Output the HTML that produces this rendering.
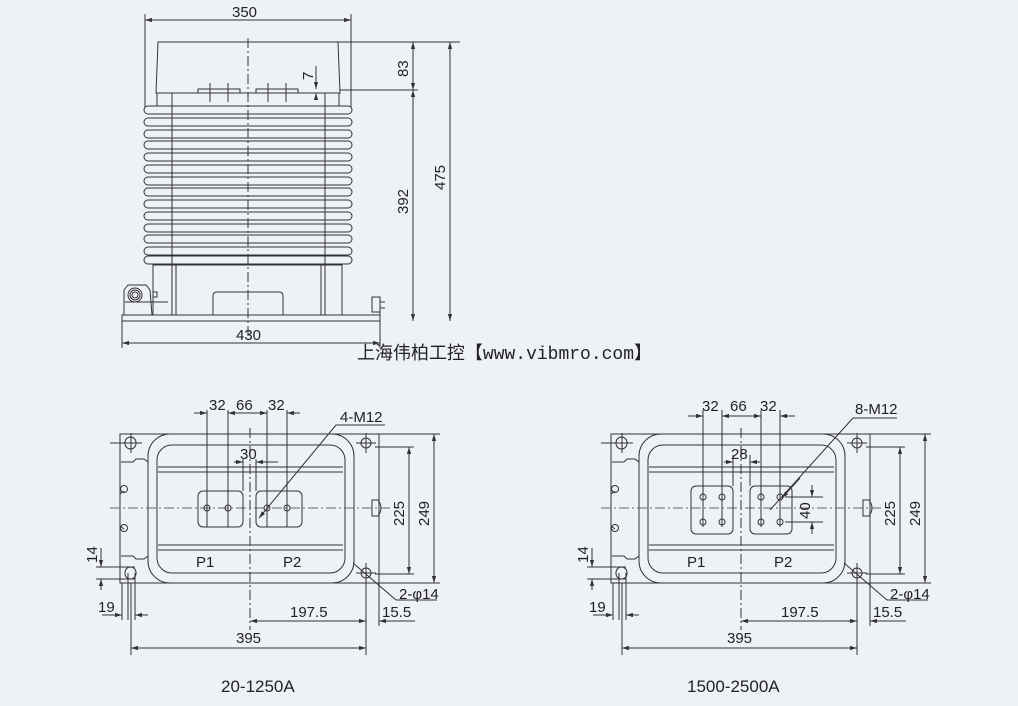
<!DOCTYPE html>
<html><head><meta charset="utf-8"><style>
html,body{margin:0;padding:0;background:#eef1f6;}
svg{display:block}
text{font-family:"Liberation Sans","Noto Sans CJK SC",sans-serif;fill:#222;font-size:15px}
</style></head><body>
<svg width="1018" height="706" viewBox="0 0 1018 706" xmlns="http://www.w3.org/2000/svg">
<defs>
<marker id="a" viewBox="0 0 10 10" refX="10" refY="5" markerWidth="7" markerHeight="7" orient="auto-start-reverse"><path d="M0,2 L10,5 L0,8 z" fill="#333"/></marker>
<g id="common" fill="none" stroke="#333" stroke-width="1">
  <rect x="120" y="434" width="259" height="149"/>
  <rect x="148" y="434" width="206" height="149" rx="22" fill="#eef1f6"/>
  <rect x="157" y="445" width="188" height="128" rx="15"/>
  <line x1="158" y1="467" x2="343" y2="467"/><line x1="158" y1="472" x2="343" y2="472"/>
  <line x1="158" y1="545" x2="343" y2="545"/><line x1="158" y1="550" x2="343" y2="550"/>
  <path d="M121,462 L133,462 L136,459 L144,459 L148,462"/>
  <path d="M121,556 L133,556 L136,559 L144,559 L148,556"/>
  <path d="M124,491 L120,494 L120,526 L124,529"/>
  <circle cx="124" cy="489" r="3.5"/><circle cx="124" cy="528" r="3.5"/>
  <rect x="125" y="437" width="11" height="12" rx="5.5"/>
  <rect x="125" y="567" width="11" height="12" rx="5.5"/>
  <circle cx="366" cy="443" r="5"/><circle cx="366" cy="573" r="5"/>
  <path d="M372,500 L378,500 Q384,508 378,516 L372,516 z"/>
  <line x1="250" y1="428" x2="250" y2="630" stroke-dasharray="10,3,2,3"/>
  <line x1="110" y1="508" x2="390" y2="508" stroke-dasharray="10,3,2,3" stroke="#666"/>
  <line x1="110" y1="443" x2="142" y2="443"/><line x1="131" y1="433" x2="131" y2="453"/>
  <line x1="356" y1="443" x2="376" y2="443"/><line x1="366" y1="433" x2="366" y2="453"/>
  <line x1="356" y1="573" x2="376" y2="573"/><line x1="366" y1="563" x2="366" y2="583"/>
  <line x1="375" y1="447" x2="414" y2="447"/><line x1="375" y1="574" x2="414" y2="574"/>
  <line x1="409" y1="447" x2="409" y2="574" marker-start="url(#a)" marker-end="url(#a)"/>
  <line x1="379" y1="434" x2="440" y2="434"/><line x1="379" y1="583" x2="440" y2="583"/>
  <line x1="434" y1="434" x2="434" y2="583" marker-start="url(#a)" marker-end="url(#a)"/>
  <line x1="353" y1="563" x2="396" y2="600"/><line x1="396" y1="600" x2="437" y2="600"/>
  <line x1="96" y1="567" x2="135" y2="567"/><line x1="96" y1="579" x2="135" y2="579"/>
  <line x1="101" y1="548" x2="101" y2="567" marker-end="url(#a)"/>
  <line x1="101" y1="590" x2="101" y2="579" marker-end="url(#a)"/>
  <line x1="122" y1="583" x2="122" y2="620"/><line x1="128" y1="573" x2="128" y2="620"/><line x1="135" y1="573" x2="135" y2="620"/>
  <line x1="102" y1="615" x2="122" y2="615" marker-end="url(#a)"/>
  <line x1="148" y1="615" x2="135" y2="615" marker-end="url(#a)"/>
  <line x1="366" y1="578" x2="366" y2="655"/><line x1="379" y1="583" x2="379" y2="626"/><line x1="131" y1="583" x2="131" y2="655"/>
  <line x1="250" y1="621" x2="366" y2="621" marker-start="url(#a)" marker-end="url(#a)"/>
  <line x1="415" y1="621" x2="379" y2="621" marker-end="url(#a)"/>
  <line x1="131" y1="648" x2="366" y2="648" marker-start="url(#a)" marker-end="url(#a)"/>
</g>
</defs>

<g fill="none" stroke="#333" stroke-width="1">
  <line x1="145" y1="14" x2="145" y2="110"/><line x1="351" y1="14" x2="351" y2="110"/>
  <line x1="145" y1="20" x2="351" y2="20" marker-start="url(#a)" marker-end="url(#a)"/>
  <path d="M158,42 L338,42 L340,93 L156,93 z"/>
  <line x1="338" y1="42" x2="460" y2="42"/><line x1="340" y1="90" x2="418" y2="90"/>
  <line x1="413" y1="42" x2="413" y2="90" marker-start="url(#a)" marker-end="url(#a)"/>
  <line x1="413" y1="90" x2="413" y2="321" marker-start="url(#a)" marker-end="url(#a)"/>
  <line x1="450" y1="42" x2="450" y2="321" marker-start="url(#a)" marker-end="url(#a)"/>
  <line x1="316" y1="66" x2="316" y2="89" marker-end="url(#a)"/>
  <line x1="316" y1="100" x2="316" y2="93" marker-end="url(#a)"/>
  <rect x="198" y="89" width="42" height="4"/><rect x="256" y="89" width="42" height="4"/>
  <line x1="210" y1="83" x2="210" y2="102"/><line x1="228" y1="83" x2="228" y2="102"/>
  <line x1="268" y1="83" x2="268" y2="102"/><line x1="286" y1="83" x2="286" y2="102"/>
  <line x1="157" y1="93" x2="157" y2="106"/><line x1="339" y1="93" x2="339" y2="106"/>
  <line x1="156" y1="93" x2="340" y2="93"/>
</g>
<g fill="#eef1f6" stroke="#333" stroke-width="1">
  <rect x="144" y="106" width="208" height="8" rx="4"/>
  <rect x="144" y="118" width="208" height="8" rx="4"/>
  <rect x="144" y="130" width="208" height="8" rx="4"/>
  <rect x="144" y="141" width="208" height="8" rx="4"/>
  <rect x="144" y="153" width="208" height="8" rx="4"/>
  <rect x="144" y="165" width="208" height="8" rx="4"/>
  <rect x="144" y="177" width="208" height="8" rx="4"/>
  <rect x="144" y="188" width="208" height="8" rx="4"/>
  <rect x="144" y="200" width="208" height="8" rx="4"/>
  <rect x="144" y="212" width="208" height="8" rx="4"/>
  <rect x="144" y="224" width="208" height="8" rx="4"/>
  <rect x="144" y="235" width="208" height="8" rx="4"/>
  <rect x="144" y="247" width="208" height="8" rx="4"/>
  <rect x="144" y="256" width="208" height="8" rx="4"/>
</g>
<g fill="none" stroke="#333" stroke-width="1">
  <line x1="172" y1="93" x2="172" y2="315"/><line x1="325" y1="93" x2="325" y2="315"/>
  <line x1="153" y1="265" x2="342" y2="265"/>
  <line x1="153" y1="264" x2="153" y2="315"/><line x1="342" y1="264" x2="342" y2="315"/>
  <line x1="176" y1="265" x2="176" y2="315"/><line x1="321" y1="265" x2="321" y2="315"/>
  <path d="M213,315 L213,296 Q213,292 217,292 L279,292 Q283,292 283,296 L283,315"/>
  <rect x="122" y="315" width="258" height="6"/>
  <path d="M124,315 L124,290 L128,285 L146,285 L150,290 L152,315"/>
  <circle cx="135" cy="295" r="7"/><circle cx="135" cy="295" r="5"/><circle cx="135" cy="295" r="3"/>
  <line x1="125" y1="302" x2="168" y2="302"/>
  <rect x="153" y="292" width="4" height="5"/>
  <rect x="372" y="297" width="8" height="15"/><line x1="380" y1="302" x2="385" y2="302"/><line x1="380" y1="308" x2="385" y2="308"/>
  <line x1="248" y1="38" x2="248" y2="340" stroke-dasharray="10,3,2,3"/>
  <line x1="122" y1="321" x2="122" y2="348"/><line x1="380" y1="312" x2="380" y2="348"/>
  <line x1="122" y1="343" x2="380" y2="343" marker-start="url(#a)" marker-end="url(#a)"/>
</g>
<text x="232" y="17">350</text>
<text x="236" y="340">430</text>
<text transform="translate(408,77) rotate(-90)">83</text>
<text transform="translate(408,214) rotate(-90)">392</text>
<text transform="translate(445,190) rotate(-90)">475</text>
<text transform="translate(313,80) rotate(-90)">7</text>
<text x="357" y="359" style="font-size:18px;font-family:'Liberation Mono','Noto Sans CJK SC',monospace" textLength="295" lengthAdjust="spacingAndGlyphs">上海伟柏工控【www.vibmro.com】</text>

<use href="#common"/>
<g fill="none" stroke="#333" stroke-width="1">
  <rect x="198" y="491" width="45" height="36" rx="5"/>
  <rect x="256" y="491" width="46" height="36" rx="5"/>
  <circle cx="207" cy="508" r="3"/><circle cx="228" cy="508" r="3"/><circle cx="267" cy="508" r="3"/><circle cx="287" cy="508" r="3"/>
  <line x1="207" y1="410" x2="207" y2="527"/><line x1="228" y1="410" x2="228" y2="527"/>
  <line x1="267" y1="410" x2="267" y2="527"/><line x1="287" y1="410" x2="287" y2="527"/>
  <line x1="194" y1="413" x2="207" y2="413" marker-end="url(#a)"/>
  <line x1="228" y1="413" x2="267" y2="413" marker-start="url(#a)" marker-end="url(#a)"/>
  <line x1="300" y1="413" x2="287" y2="413" marker-end="url(#a)"/>
  <line x1="243" y1="459" x2="243" y2="491"/><line x1="256" y1="459" x2="256" y2="491"/>
  <line x1="234" y1="462" x2="243" y2="462" marker-end="url(#a)"/>
  <line x1="278" y1="462" x2="256" y2="462" marker-end="url(#a)"/>
  <line x1="385" y1="425" x2="336" y2="425"/><line x1="336" y1="425" x2="259" y2="518" marker-end="url(#a)"/>
</g>
<text x="209" y="410">32</text><text x="236" y="410">66</text><text x="268" y="410">32</text>
<text x="240" y="459">30</text>
<text x="340" y="422">4-M12</text>
<text x="196" y="567">P1</text><text x="283" y="567">P2</text>
<text transform="translate(404,526) rotate(-90)">225</text>
<text transform="translate(429,526) rotate(-90)">249</text>
<text x="399" y="599">2-φ14</text>
<text transform="translate(97,563) rotate(-90)">14</text>
<text x="98" y="612">19</text>
<text x="290" y="617">197.5</text>
<text x="382" y="617">15.5</text>
<text x="236" y="643">395</text>
<text x="221" y="692" style="font-size:17px">20-1250A</text>

<use href="#common" transform="translate(491,0)"/>
<g fill="none" stroke="#333" stroke-width="1">
  <rect x="691" y="486" width="42" height="48" rx="5"/>
  <rect x="750" y="486" width="42" height="48" rx="5"/>
  <circle cx="703" cy="497" r="3"/><circle cx="722" cy="497" r="3"/><circle cx="703" cy="522" r="3"/><circle cx="722" cy="522" r="3"/>
  <circle cx="761" cy="497" r="3"/><circle cx="780" cy="497" r="3"/><circle cx="761" cy="522" r="3"/><circle cx="780" cy="522" r="3"/>
  <line x1="703" y1="410" x2="703" y2="527"/><line x1="722" y1="410" x2="722" y2="527"/>
  <line x1="761" y1="410" x2="761" y2="527"/><line x1="780" y1="410" x2="780" y2="527"/>
  <line x1="688" y1="416" x2="703" y2="416" marker-end="url(#a)"/>
  <line x1="722" y1="416" x2="761" y2="416" marker-start="url(#a)" marker-end="url(#a)"/>
  <line x1="795" y1="416" x2="780" y2="416" marker-end="url(#a)"/>
  <line x1="733" y1="455" x2="733" y2="486"/><line x1="750" y1="455" x2="750" y2="486"/>
  <line x1="724" y1="462" x2="733" y2="462" marker-end="url(#a)"/>
  <line x1="760" y1="462" x2="750" y2="462" marker-end="url(#a)"/>
  <line x1="785" y1="497" x2="823" y2="497"/><line x1="785" y1="522" x2="823" y2="522"/>
  <line x1="812" y1="485" x2="812" y2="497" marker-end="url(#a)"/>
  <line x1="812" y1="534" x2="812" y2="522" marker-end="url(#a)"/>
  <line x1="897" y1="418" x2="853" y2="418"/><line x1="853" y1="418" x2="770" y2="510"/><line x1="800" y1="478" x2="782" y2="498" marker-end="url(#a)"/>
</g>
<text x="702" y="411">32</text><text x="730" y="411">66</text><text x="760" y="411">32</text>
<text x="731" y="459">28</text>
<text x="855" y="414">8-M12</text>
<text x="687" y="567">P1</text><text x="774" y="567">P2</text>
<text transform="translate(810,519) rotate(-90)">40</text>
<text transform="translate(895,526) rotate(-90)">225</text>
<text transform="translate(920,526) rotate(-90)">249</text>
<text x="890" y="599">2-φ14</text>
<text transform="translate(588,563) rotate(-90)">14</text>
<text x="589" y="612">19</text>
<text x="781" y="617">197.5</text>
<text x="873" y="617">15.5</text>
<text x="727" y="643">395</text>
<text x="687" y="692" style="font-size:17px">1500-2500A</text>
</svg>
</body></html>
